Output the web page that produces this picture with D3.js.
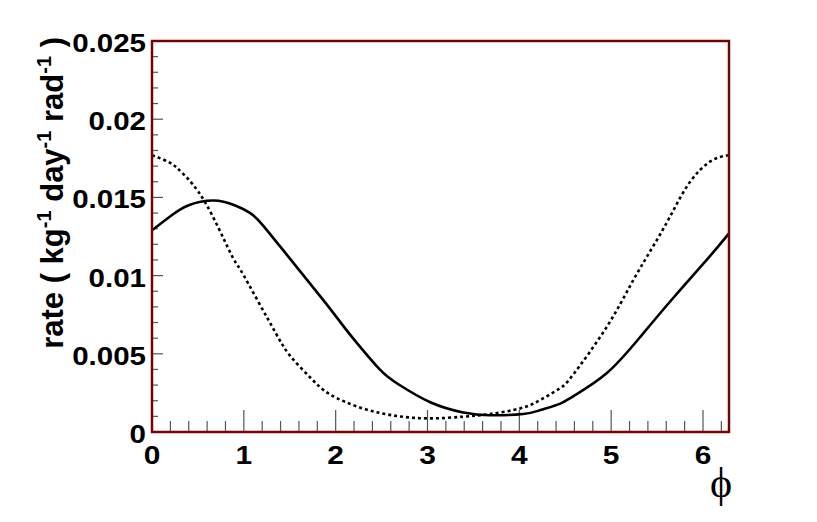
<!DOCTYPE html>
<html>
<head>
<meta charset="utf-8">
<script src="https://cdn.jsdelivr.net/npm/d3@7"></script>
<style>
  body { margin: 0; background: white; }
  text { font-family: "Liberation Sans", Arial, sans-serif; font-weight: bold; }
</style>
</head>
<body>
<div id="chart"></div>
<script>
//initial settings for the canvas
const width = 817;
const height = 522;

//frame of the plot
const frameLeft = 152, frameRight = 729, frameTop = 41, frameBottom = 432;

//solid curve
const solidPhi  = [0, 0.2, 0.4, 0.67, 0.9, 1.07, 1.21, 1.5, 1.87, 2.08, 2.23, 2.48, 2.67, 3.03, 3.39, 3.68, 4.04, 4.23, 4.44, 4.59, 4.95, 5.32, 5.68, 6.04, 6.283];
const solidRate = [0.0129, 0.0138, 0.0145, 0.0148, 0.0145, 0.0140, 0.0132, 0.0111, 0.0084, 0.0068, 0.0057, 0.0040, 0.0031, 0.0019, 0.00125, 0.00107, 0.00115, 0.0014, 0.0018, 0.0023, 0.00375, 0.0061, 0.0086, 0.0110, 0.0127];

//dotted curve
const dottedPhi  = [0, 0.2, 0.34, 0.577, 0.85, 0.96, 1.16, 1.35, 1.5, 1.72, 1.94, 2.3, 2.67, 3.03, 3.39, 3.68, 4.01, 4.23, 4.44, 4.59, 4.95, 5.24, 5.5, 5.68, 5.86, 6.08, 6.283];
const dottedRate = [0.0177, 0.0172, 0.0165, 0.0147, 0.0115, 0.0104, 0.0083, 0.0063, 0.0049, 0.0035, 0.0024, 0.0015, 0.00102, 0.00087, 0.00098, 0.00115, 0.00151, 0.00205, 0.00279, 0.0037, 0.0067, 0.0097, 0.0123, 0.0142, 0.0160, 0.0173, 0.0177];

//tick labels
const xTicks = [0, 1, 2, 3, 4, 5, 6];
const yTicks = [0, 0.005, 0.01, 0.015, 0.02, 0.025];
const yLabels = ["0", "0.005", "0.01", "0.015", "0.02", "0.025"];

const svg = d3.select("#chart")
  .append("svg")
  .attr("width", width)
  .attr("height", height);

const x = d3.scaleLinear().domain([0, 2 * Math.PI]).range([frameLeft, frameRight]);
const y = d3.scaleLinear().domain([0, 0.025]).range([frameBottom, frameTop]);

// minor + major ticks, drawn inside the frame
const xMinor = d3.range(0, 6.21, 0.2).map(v => +v.toFixed(1));
svg.append("g").selectAll("line")
  .data(xMinor)
  .enter()
  .append("line")
  .attr("x1", d => x(d)).attr("x2", d => x(d))
  .attr("y1", frameBottom)
  .attr("y2", d => Number.isInteger(d) ? frameBottom - 22 : frameBottom - 11)
  .attr("stroke", "#555")
  .attr("stroke-width", 1.2);

const yMinor = d3.range(0, 0.02501, 0.001);
svg.append("g").selectAll("line")
  .data(yMinor)
  .enter()
  .append("line")
  .attr("y1", d => y(d)).attr("y2", d => y(d))
  .attr("x1", frameLeft)
  .attr("x2", (d, i) => i % 5 === 0 ? frameLeft + 11 : frameLeft + 6)
  .attr("stroke", "#555")
  .attr("stroke-width", 1.2);

//curves
const line = d3.line()
  .x(d => x(d[0]))
  .y(d => y(d[1]))
  .curve(d3.curveNatural);

svg.append("path")
  .datum(dottedPhi.map((p, i) => [p, dottedRate[i]]))
  .attr("d", line)
  .attr("fill", "none")
  .attr("stroke", "black")
  .attr("stroke-width", 2.6)
  .attr("stroke-dasharray", "3,3");

svg.append("path")
  .datum(solidPhi.map((p, i) => [p, solidRate[i]]))
  .attr("d", line)
  .attr("fill", "none")
  .attr("stroke", "black")
  .attr("stroke-width", 2.6);

//frame: red edge with dark core
svg.append("rect")
  .attr("x", frameLeft).attr("y", frameTop)
  .attr("width", frameRight - frameLeft).attr("height", frameBottom - frameTop)
  .attr("fill", "none")
  .attr("stroke", "#d21a1a")
  .attr("stroke-width", 2.6);
svg.append("rect")
  .attr("x", frameLeft).attr("y", frameTop)
  .attr("width", frameRight - frameLeft).attr("height", frameBottom - frameTop)
  .attr("fill", "none")
  .attr("stroke", "#1a0000")
  .attr("stroke-width", 1.2);

//tick labels (stretched a bit wide like the original)
svg.append("g").selectAll("text")
  .data(xTicks)
  .enter()
  .append("text")
  .attr("transform", d => `translate(${x(d)},464) scale(1.15,1)`)
  .attr("text-anchor", "middle")
  .attr("font-size", "26px")
  .text(d => d);

svg.append("g").selectAll("text")
  .data(yTicks)
  .enter()
  .append("text")
  .attr("transform", d => `translate(146,${y(d) + 11}) scale(1.18,1)`)
  .attr("text-anchor", "end")
  .attr("font-size", "25px")
  .text((d, i) => yLabels[i]);

//axis titles
const yTitle = svg.append("text")
  .attr("transform", "translate(63,37) rotate(-90)")
  .attr("text-anchor", "end")
  .attr("font-size", "31px");
yTitle.append("tspan").text("rate ( kg");
yTitle.append("tspan").attr("dy", -12).attr("font-size", "20px").text("-1");
yTitle.append("tspan").attr("dy", 12).text(" day");
yTitle.append("tspan").attr("dy", -12).attr("font-size", "20px").text("-1");
yTitle.append("tspan").attr("dy", 12).text(" rad");
yTitle.append("tspan").attr("dy", -12).attr("font-size", "20px").text("-1");
yTitle.append("tspan").attr("dy", 12).text(" )");

svg.append("text")
  .attr("x", 721)
  .attr("y", 497)
  .attr("text-anchor", "middle")
  .attr("font-size", "42px")
  .style("font-family", "'Liberation Serif', 'DejaVu Serif', serif")
  .style("font-weight", "normal")
  .text("ϕ");
</script>
</body>
</html>
